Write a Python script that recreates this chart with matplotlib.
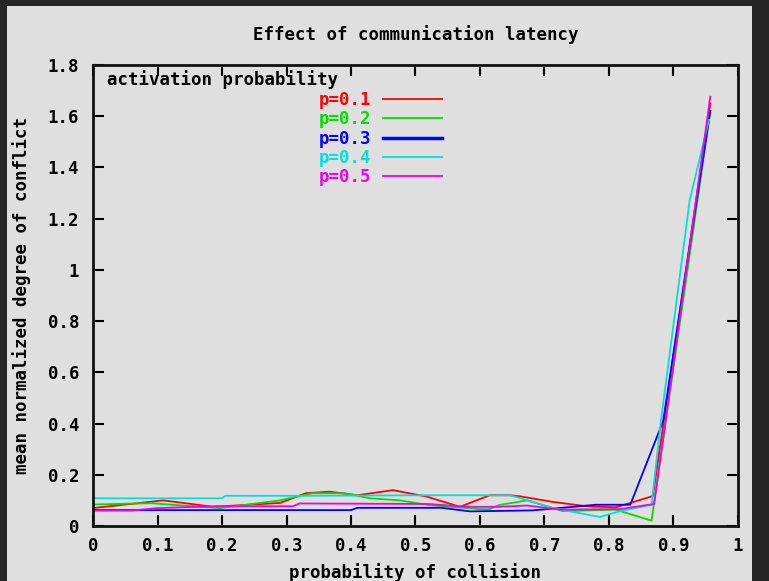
import matplotlib
matplotlib.use('Agg')
import matplotlib.pyplot as plt
from matplotlib.patches import Rectangle

# mean normalized degree of conflict vs probability of collision, one curve per activation probability
red_x = [0.0, 0.109, 0.186, 0.29, 0.33, 0.367, 0.41, 0.465, 0.517, 0.569, 0.615, 0.646, 0.662, 0.713, 0.766, 0.81, 0.833, 0.868, 0.957]
red_y = [0.07, 0.10, 0.075, 0.09, 0.128, 0.134, 0.12, 0.14, 0.115, 0.075, 0.12, 0.12, 0.116, 0.094, 0.077, 0.073, 0.09, 0.117, 1.65]

green_x = [0.0, 0.09, 0.166, 0.197, 0.29, 0.34, 0.39, 0.43, 0.476, 0.52, 0.60, 0.615, 0.63, 0.673, 0.729, 0.81, 0.866, 0.957]
green_y = [0.084, 0.089, 0.075, 0.07, 0.10, 0.128, 0.128, 0.108, 0.10, 0.082, 0.066, 0.066, 0.082, 0.10, 0.058, 0.064, 0.021, 1.62]

blue_x = [0.0, 0.40, 0.41, 0.54, 0.585, 0.682, 0.78, 0.833, 0.884, 0.957]
blue_y = [0.062, 0.062, 0.071, 0.071, 0.057, 0.061, 0.083, 0.083, 0.41, 1.62]

cyan_x = [0.0, 0.2, 0.205, 0.32, 0.52, 0.646, 0.662, 0.713, 0.786, 0.817, 0.866, 0.88, 0.925, 0.955]
cyan_y = [0.108, 0.108, 0.118, 0.118, 0.12, 0.12, 0.109, 0.07, 0.035, 0.058, 0.083, 0.40, 1.27, 1.586]

magenta_x = [0.0, 0.06, 0.1, 0.19, 0.31, 0.32, 0.52, 0.58, 0.63, 0.673, 0.724, 0.817, 0.870, 0.957]
magenta_y = [0.06, 0.06, 0.07, 0.077, 0.077, 0.088, 0.086, 0.075, 0.075, 0.08, 0.064, 0.066, 0.086, 1.676]

labels = ['p=0.1', 'p=0.2', 'p=0.3', 'p=0.4', 'p=0.5']
colors = ['#ff0000', '#00dd00', '#0000ff', '#00dede', '#ee00ee']

xticks = [0, 0.1, 0.2, 0.3, 0.4, 0.5, 0.6, 0.7, 0.8, 0.9, 1]
xticklabels = ['0', '0.1', '0.2', '0.3', '0.4', '0.5', '0.6', '0.7', '0.8', '0.9', '1']
yticks = [0, 0.2, 0.4, 0.6, 0.8, 1, 1.2, 1.4, 1.6, 1.8]
yticklabels = ['0', '0.2', '0.4', '0.6', '0.8', '1', '1.2', '1.4', '1.6', '1.8']

mono = {'family': 'DejaVu Sans Mono', 'weight': 'bold', 'size': 12.5}
plt.rcParams['font.family'] = 'DejaVu Sans Mono'
plt.rcParams['font.weight'] = 'bold'

fig = plt.figure(figsize=(7.69, 5.81), dpi=100, facecolor='#262626')
# light panel inside the dark frame
fig.patches.append(Rectangle((7/769, 0), 745/769, 1 - 6/581, transform=fig.transFigure,
                             facecolor='#dfdfdf', edgecolor='none', zorder=-10))

ax = fig.add_axes([93/769, 1 - 526/581, 645/769, 461/581])
ax.set_facecolor('#dfdfdf')

series = [(red_x, red_y), (green_x, green_y), (blue_x, blue_y), (cyan_x, cyan_y), (magenta_x, magenta_y)]
for (xs, ys), c, lab in zip(series, colors, labels):
    ax.plot(xs, ys, color=c, lw=1.3, label=lab)

ax.set_xlim(0, 1)
ax.set_ylim(0, 1.8)
ax.set_xticks(xticks)
ax.set_xticklabels(xticklabels, fontdict=mono)
ax.set_yticks(yticks)
ax.set_yticklabels(yticklabels, fontdict=mono)
ax.tick_params(direction='in', length=8, width=1.5, top=True, right=True, colors='black')
ax.tick_params(axis='x', pad=8)
ax.tick_params(axis='y', pad=10)
for s in ax.spines.values():
    s.set_linewidth(2)
    s.set_color('#111111')

ax.set_title('Effect of communication latency', fontdict=mono, pad=18)
ax.set_xlabel('probability of collision', fontdict=mono, labelpad=6)
ax.set_ylabel('mean normalized degree of conflict', fontdict=mono, labelpad=12)

ax.text(0.022, 0.968, 'activation probability', transform=ax.transAxes, ha='left', va='center',
        fontdict=mono)
leg = ax.legend(loc='upper left', bbox_to_anchor=(0.35, 0.944), frameon=False, markerfirst=False,
                labelcolor='linecolor', handlelength=3.4, handletextpad=0.7, labelspacing=0.08,
                borderaxespad=0, borderpad=0, prop=mono)
leg.legend_handles[2].set_linewidth(2.5)

fig.savefig('out.png', dpi=100, facecolor=fig.get_facecolor())
